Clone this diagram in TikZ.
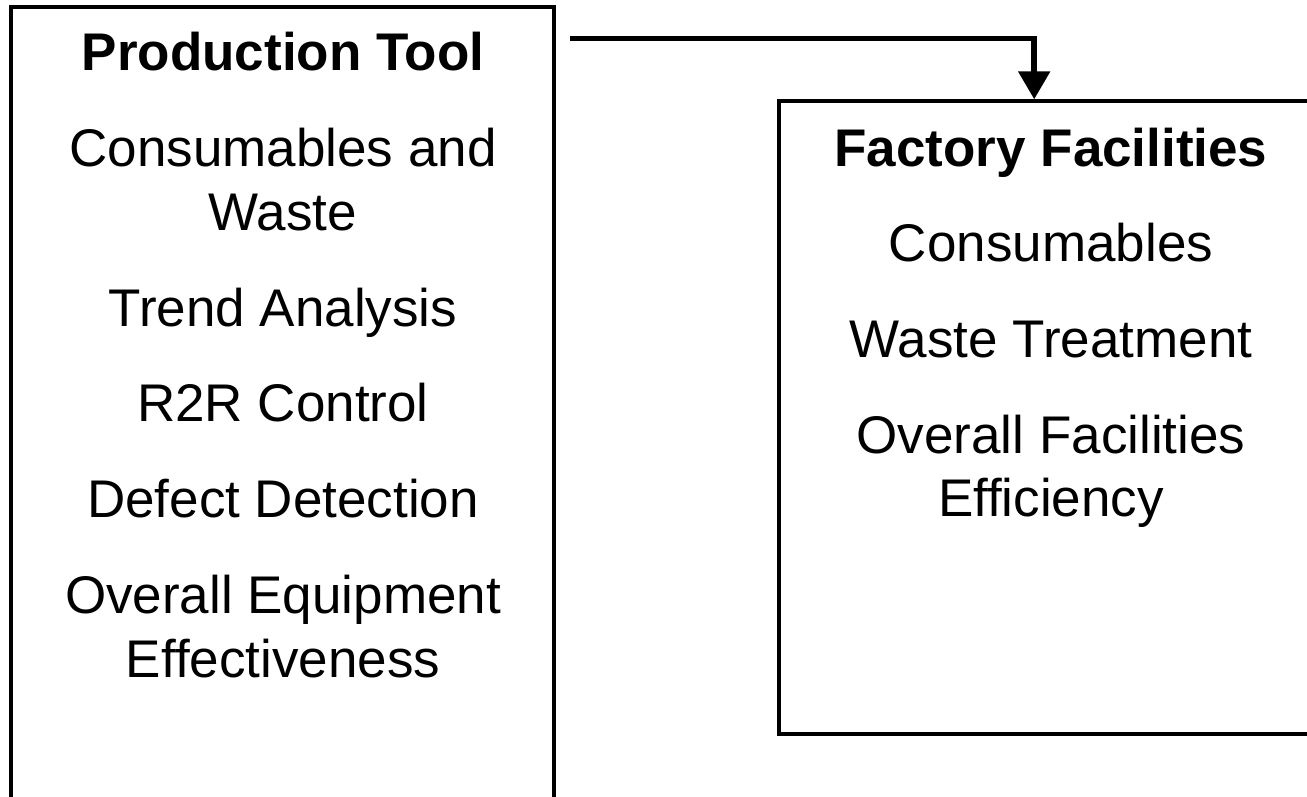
\documentclass[tikz,border=0pt]{standalone}
\usepackage{fontspec}
\setmainfont{Liberation Sans}
\usetikzlibrary{arrows.meta}
\begin{document}
\begin{tikzpicture}[x=1pt,y=-1pt,
  panel/.style={draw, line width=4pt, inner sep=0pt},
  txt/.style={anchor=base, inner sep=0pt, font=\fontsize{53}{64}\selectfont},
  head/.style={txt, font=\fontsize{53}{64}\selectfont\bfseries},
  link/.style={line width=5.5pt, line join=miter, -{Triangle[length=28pt,width=31pt]}}]
\useasboundingbox (0,0) rectangle (1307,796);
\clip (0,0) rectangle (1307,796);

% two panels (both run past the page edge)
\node[panel, minimum width=543pt, minimum height=823pt] (tool) at (282.7,418.7) {};
\node[panel, minimum width=545pt, minimum height=632.2pt] (fac) at (1051.2,417.4) {};

% production tool contents
\node[head] (t0) at (283,70.7) {Production Tool};
\node[txt] (t1) at (283,166.7) {Consumables and};
\node[txt] (t1b) at (283,230) {Waste};
\node[txt] (t2) at (283,326.7) {Trend Analysis};
\node[txt] (t3) at (283,421.7) {R2R Control};
\node[txt] (t4) at (283,517.5) {Defect Detection};
\node[txt] (t5) at (283,613.3) {Overall Equipment};
\node[txt] (t5b) at (283,677.5) {Effectiveness};

% factory facilities contents
\node[head] (f0) at (1051,166) {Factory Facilities};
\node[txt] (f1) at (1051,261.7) {Consumables};
\node[txt] (f2) at (1051,357.5) {Waste Treatment};
\node[txt] (f3) at (1051,453) {Overall Facilities};
\node[txt] (f3b) at (1051,516.5) {Efficiency};

% flow from the tool to the facilities
\coordinate (src) at (570,38.7);
\coordinate (bend) at (1034.2,38.7);
\draw[link] (src) -- (bend) -- (bend |- fac.north);
\end{tikzpicture}
\end{document}
